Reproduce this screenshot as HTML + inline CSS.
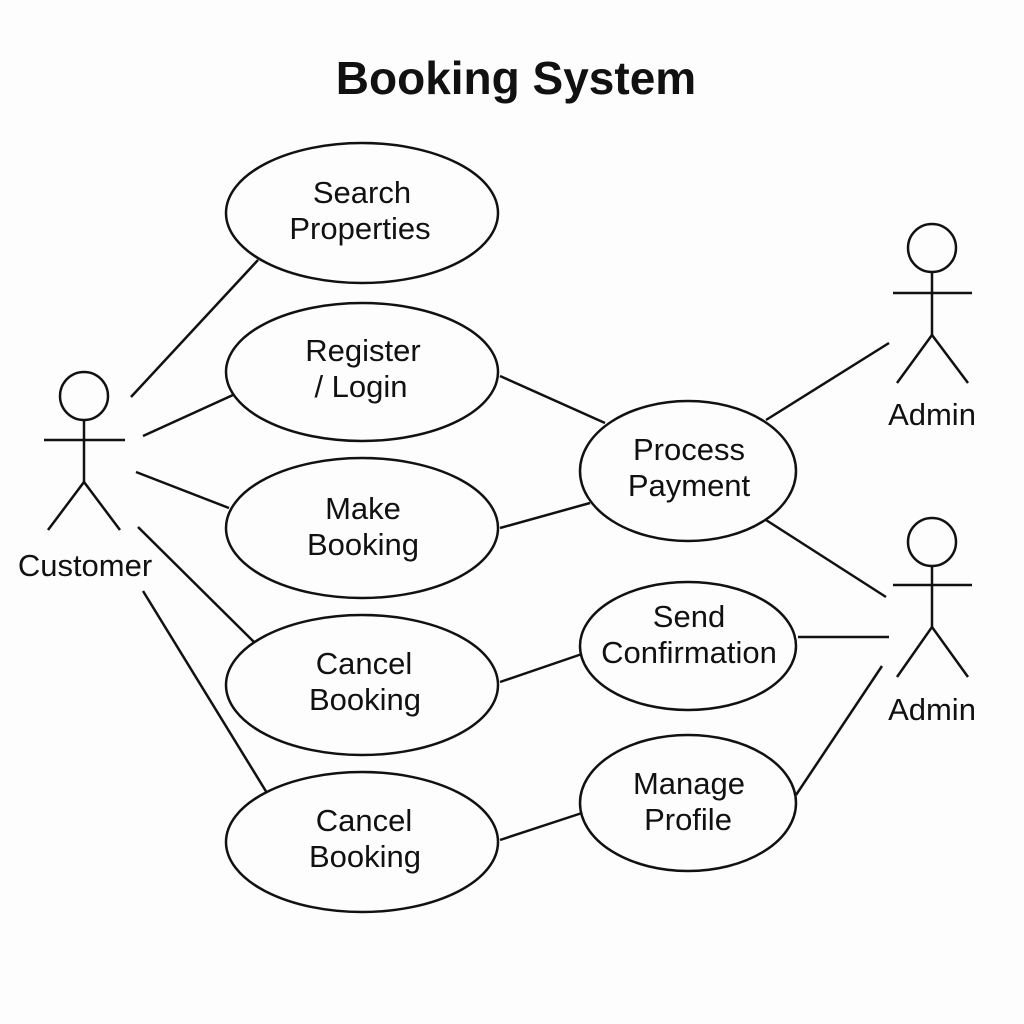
<!DOCTYPE html>
<html><head><meta charset="utf-8"><style>
html,body{margin:0;padding:0;background:#fff;}
svg{display:block;}
text{font-family:"Liberation Sans",sans-serif;fill:#111;}
</style></head><body>
<svg width="1024" height="1024" viewBox="0 0 1024 1024" xmlns="http://www.w3.org/2000/svg">
<rect width="1024" height="1024" fill="#fdfdfd"/>
<text x="516" y="94" font-size="46" font-weight="bold" text-anchor="middle">Booking System</text>
<g fill="none" stroke="#111" stroke-width="2.5">
<ellipse cx="362" cy="213" rx="136" ry="70"/>
<ellipse cx="362" cy="372" rx="136" ry="69"/>
<ellipse cx="362" cy="528" rx="136" ry="70"/>
<ellipse cx="362" cy="685" rx="136" ry="70"/>
<ellipse cx="362" cy="842" rx="136" ry="70"/>
<ellipse cx="688" cy="471" rx="108" ry="70"/>
<ellipse cx="688" cy="646" rx="108" ry="64"/>
<ellipse cx="688" cy="803" rx="108" ry="68"/>
<circle cx="84" cy="396" r="24"/>
<line x1="84" y1="420" x2="84" y2="482"/><line x1="44" y1="440" x2="125" y2="440"/>
<polyline points="48,530 84,482 120,530"/>
<circle cx="932" cy="248" r="24"/>
<line x1="932" y1="272" x2="932" y2="335"/><line x1="893" y1="293" x2="972" y2="293"/>
<polyline points="897,383 932,335 968,383"/>
<circle cx="932" cy="542" r="24"/>
<line x1="932" y1="566" x2="932" y2="627"/><line x1="893" y1="585" x2="972" y2="585"/>
<polyline points="897,677 932,627 968,677"/>
<line x1="131" y1="397" x2="258" y2="260"/>
<line x1="143" y1="436" x2="233" y2="395"/>
<line x1="136" y1="472" x2="229" y2="508"/>
<line x1="138" y1="527" x2="254" y2="642"/>
<line x1="143" y1="591" x2="267" y2="793"/>
<line x1="500" y1="376" x2="605" y2="423"/>
<line x1="500" y1="528" x2="590" y2="503"/>
<line x1="500" y1="682" x2="582" y2="654"/>
<line x1="500" y1="840" x2="582" y2="813"/>
<line x1="766" y1="420" x2="889" y2="343"/>
<line x1="766" y1="520" x2="886" y2="597"/>
<line x1="798" y1="637" x2="889" y2="637"/>
<line x1="796" y1="795" x2="882" y2="666"/>
</g>
<g font-size="31" text-anchor="middle">
<text x="362" y="203">Search</text><text x="360" y="239">Properties</text>
<text x="363" y="361">Register</text><text x="361" y="397">/ Login</text>
<text x="363" y="519">Make</text><text x="363" y="555">Booking</text>
<text x="364" y="674">Cancel</text><text x="365" y="710">Booking</text>
<text x="364" y="831">Cancel</text><text x="365" y="867">Booking</text>
<text x="689" y="460">Process</text><text x="689" y="496">Payment</text>
<text x="689" y="627">Send</text><text x="689" y="663">Confirmation</text>
<text x="689" y="794">Manage</text><text x="688" y="830">Profile</text>
<text x="85" y="576">Customer</text>
<text x="932" y="425">Admin</text>
<text x="932" y="720">Admin</text>
</g>
</svg>
</body></html>
